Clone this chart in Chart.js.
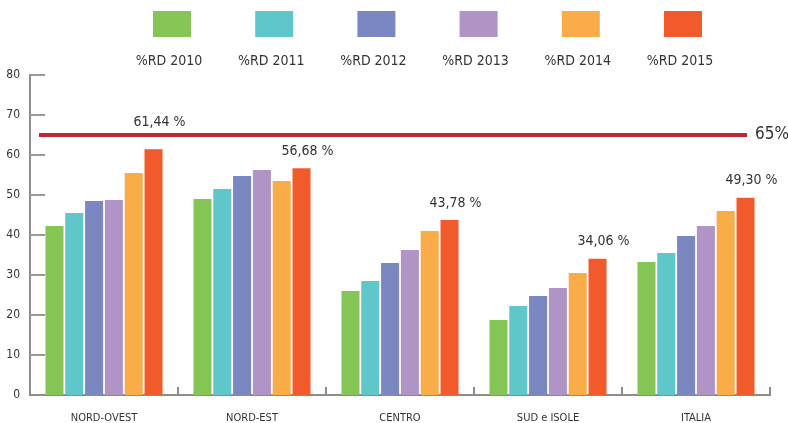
<!DOCTYPE html>
<html>
<head>
<meta charset="utf-8">
<script src="https://cdn.jsdelivr.net/npm/chart.js@4.4.1/dist/chart.umd.min.js"></script>
<style>
  html, body { margin: 0; padding: 0; background: #ffffff; }
  #wrap { width: 788px; height: 423px; position: relative; }
</style>
</head>
<body>
<div id="wrap"><canvas id="chart"></canvas></div>
<script>
// Regions and yearly R&D shares (%)
const categories = ['NORD-OVEST', 'NORD-EST', 'CENTRO', 'SUD e ISOLE', 'ITALIA'];
const seriesNames = ['%RD 2010', '%RD 2011', '%RD 2012', '%RD 2013', '%RD 2014', '%RD 2015'];
const rd2010 = [42.25, 49.0, 26.0, 18.75, 33.25];
const rd2011 = [45.5, 51.5, 28.5, 22.25, 35.5];
const rd2012 = [48.5, 54.75, 33.0, 24.75, 39.75];
const rd2013 = [48.75, 56.25, 36.25, 26.75, 42.25];
const rd2014 = [55.5, 53.5, 41.0, 30.5, 46.0];
const rd2015 = [61.44, 56.68, 43.78, 34.06, 49.30];
const seriesColors = ['#84c556', '#5fc6ca', '#7b87c1', '#af94c5', '#f9ac48', '#f15a2b'];
const yTicks = [0, 10, 20, 30, 40, 50, 60, 70, 80];
const target = 65;
const targetLabel = '65%';

const FONT = '"DejaVu Sans Condensed", "DejaVu Sans", sans-serif';
const TEXT = '#333333';
const AXIS = '#8c8c8c';

const seriesData = [rd2010, rd2011, rd2012, rd2013, rd2014, rd2015];

// Legend: swatch on top, name underneath
const legendPlugin = {
  id: 'stackedLegend',
  afterDraw(chart) {
    const ctx = chart.ctx;
    ctx.save();
    ctx.font = '14px ' + FONT;
    ctx.fillStyle = TEXT;
    ctx.textAlign = 'center';
    ctx.textBaseline = 'middle';
    seriesNames.forEach((name, i) => {
      const cx = 172 + i * 102.2;
      ctx.fillStyle = seriesColors[i];
      ctx.fillRect(cx - 19, 11, 38, 26);
      ctx.fillStyle = TEXT;
      ctx.fillText(name, cx - 3, 61);
    });
    ctx.restore();
  }
};

// Inner tick marks on both axes
const tickPlugin = {
  id: 'innerTicks',
  beforeDatasetsDraw(chart) {
    const ctx = chart.ctx;
    const y = chart.scales.y, x = chart.scales.x;
    const area = chart.chartArea;
    ctx.save();
    ctx.lineWidth = 2;
    ctx.strokeStyle = '#9a9a9a';
    yTicks.forEach(v => {
      if (v === 0) return;
      const py = Math.round(y.getPixelForValue(v));
      ctx.beginPath();
      ctx.moveTo(area.left, py);
      ctx.lineTo(area.left + 15, py);
      ctx.stroke();
    });
    ctx.strokeStyle = AXIS;
    const step = (area.right - area.left) / categories.length;
    for (let i = 1; i <= categories.length; i++) {
      const px = Math.round(area.left + i * step);
      ctx.beginPath();
      ctx.moveTo(px, area.bottom);
      ctx.lineTo(px, area.bottom - 8);
      ctx.stroke();
    }
    ctx.restore();
  }
};

// Target line and 2015 value labels
const overlayPlugin = {
  id: 'overlay',
  afterDatasetsDraw(chart) {
    const ctx = chart.ctx;
    const area = chart.chartArea;
    const ty = chart.scales.y.getPixelForValue(target);
    ctx.save();
    ctx.strokeStyle = '#c1272d';
    ctx.lineWidth = 4;
    ctx.beginPath();
    ctx.moveTo(area.left + 9, ty);
    ctx.lineTo(area.right - 23, ty);
    ctx.stroke();
    ctx.fillStyle = TEXT;
    ctx.font = '17px ' + FONT;
    ctx.textAlign = 'left';
    ctx.textBaseline = 'middle';
    ctx.fillText(targetLabel, area.right - 15, ty);

    const last = chart.data.datasets.length - 1;
    const meta = chart.getDatasetMeta(last);
    ctx.font = '14px ' + FONT;
    ctx.textAlign = 'center';
    meta.data.forEach((bar, i) => {
      const v = chart.data.datasets[last].data[i];
      let ly = bar.y - 17;
      if (Math.abs(ly - ty) < 12) ly = ty - 12.5;
      ctx.fillText(v.toFixed(2).replace('.', ',') + ' %', bar.x + 6, ly);
    });
    ctx.restore();
  }
};

new Chart(document.getElementById('chart'), {
  type: 'bar',
  data: {
    labels: categories,
    datasets: seriesNames.map((name, i) => ({
      label: name,
      data: seriesData[i],
      backgroundColor: seriesColors[i],
      borderWidth: 0,
      categoryPercentage: 0.803,
      barPercentage: 0.91
    }))
  },
  options: {
    responsive: true,
    maintainAspectRatio: false,
    animation: false,
    layout: { padding: { top: 75, right: 18, left: 0, bottom: 0 } },
    plugins: {
      legend: { display: false },
      tooltip: { enabled: false }
    },
    scales: {
      x: {
        grid: { display: false, drawTicks: false },
        border: { display: true, color: AXIS, width: 2 },
        ticks: {
          color: TEXT,
          font: { family: FONT, size: 11 },
          padding: 17,
          maxRotation: 0
        },
        afterFit(scale) { scale.height = 28; }
      },
      y: {
        min: 0,
        max: 80,
        grid: { display: false, drawTicks: false },
        border: { display: true, color: AXIS, width: 2 },
        afterBuildTicks(scale) { scale.ticks = yTicks.map(v => ({ value: v })); },
        ticks: {
          color: TEXT,
          font: { family: FONT, size: 12 },
          padding: 10
        },
        afterFit(scale) { scale.width = 30; }
      }
    }
  },
  plugins: [legendPlugin, tickPlugin, overlayPlugin]
});
</script>
</body>
</html>
